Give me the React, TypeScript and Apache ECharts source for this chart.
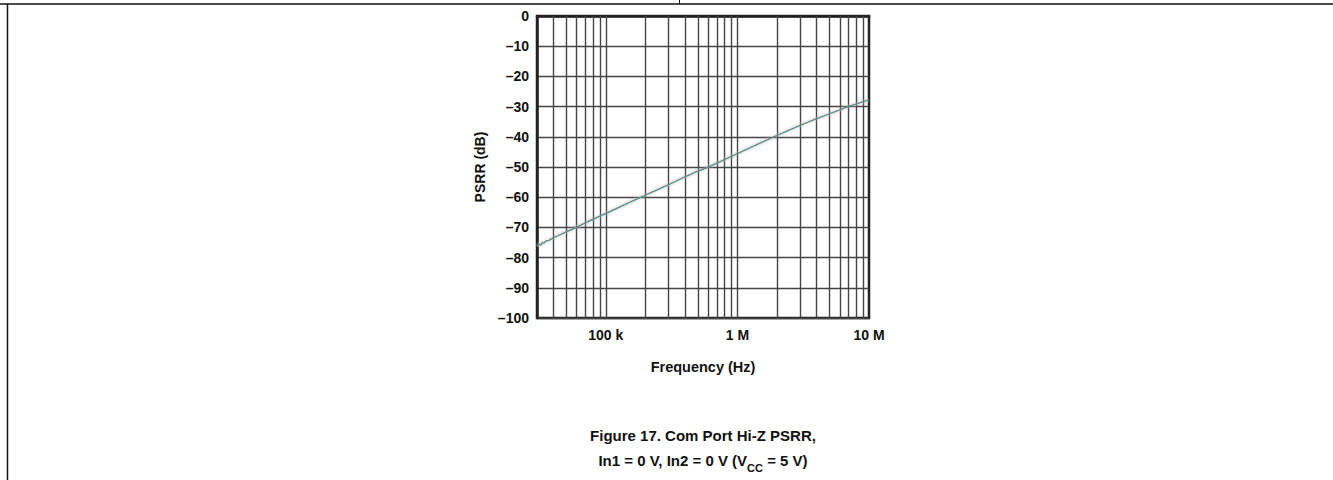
import React, { useEffect, useRef } from "react";
import * as echarts from "echarts";

const freqHz = [
  30000, 31000, 32000, 33000, 34000, 35000, 37000, 40000, 43000, 46000, 50000,
  55000, 60000, 70000, 80000, 90000, 100000, 150000, 200000, 300000, 400000,
  500000, 600000, 700000, 1000000, 1500000, 2000000, 3000000, 4000000, 5000000,
  7000000, 10000000,
];
const psrrDb = [
  -76.3, -75.6, -75.9, -75.0, -75.2, -74.5, -74.3, -73.4, -72.8, -72.2, -71.5,
  -70.7, -69.9, -68.5, -67.3, -66.3, -65.4, -61.8, -59.3, -55.8, -53.3,
  -51.4, -50.0, -48.7, -45.6, -42.0, -39.5, -36.2, -34.0, -32.4,
  -29.9, -27.8,
];
const xGridValues = [
  40000, 50000, 60000, 70000, 80000, 90000, 100000, 200000, 300000, 400000,
  500000, 600000, 700000, 800000, 900000, 1000000, 2000000, 3000000, 4000000,
  5000000, 6000000, 7000000, 8000000, 9000000,
];
const xTickLabels: Record<string, string> = { "5": "100 k", "6": "1 M", "7": "10 M" };
const yTicks = { min: -100, max: 0, interval: 10 };
const titleLine1 = "Figure 17. Com Port Hi-Z PSRR,";
const xName = "Frequency (Hz)";
const yName = "PSRR (dB)";

const FONT = 'Arial, "Liberation Sans", Helvetica, sans-serif';

export default function App() {
  const ref = useRef<HTMLDivElement>(null);
  useEffect(() => {
    if (!ref.current) return;
    const chart = echarts.init(ref.current, undefined, { renderer: "svg" });
    const data = freqHz.map((f, i) => [f, psrrDb[i]]);
    chart.setOption({
      animation: false,
      backgroundColor: "#ffffff",
      grid: {
        left: 537,
        top: 16,
        width: 332,
        height: 302,
        show: true,
        borderColor: "#222222",
        borderWidth: 2.5,
        backgroundColor: "transparent",
      },
      xAxis: {
        type: "log",
        logBase: 10,
        min: 30000,
        max: 10000000,
        name: xName,
        nameLocation: "middle",
        nameGap: 41,
        nameTextStyle: { fontFamily: FONT, fontWeight: "bold", fontSize: 14.5, color: "#111" },
        axisLine: { show: true, lineStyle: { color: "#222", width: 2.5 } },
        axisTick: { show: false },
        splitLine: { show: false },
        axisLabel: {
          margin: 10,
          fontFamily: FONT,
          fontWeight: "bold",
          fontSize: 14,
          color: "#111",
          formatter: (v: number) => {
            const l = Math.log10(v);
            const r = Math.round(l);
            if (Math.abs(l - r) < 1e-6) return xTickLabels[String(r)] || "";
            return "";
          },
        },
      },
      yAxis: {
        type: "value",
        min: yTicks.min,
        max: yTicks.max,
        interval: yTicks.interval,
        name: yName,
        nameLocation: "middle",
        nameGap: 50,
        nameTextStyle: { fontFamily: FONT, fontWeight: "bold", fontSize: 14, color: "#111" },
        axisLine: { show: true, lineStyle: { color: "#222", width: 2.5 } },
        axisTick: { show: false },
        splitLine: { show: true, lineStyle: { color: "#444", width: 1.4 } },
        axisLabel: {
          margin: 8,
          fontFamily: FONT,
          fontWeight: "bold",
          fontSize: 14,
          color: "#111",
          formatter: (v: number) => (v < 0 ? "\u2013" + Math.abs(v) : String(v)),
        },
      },
      graphic: [
        {
          type: "line",
          shape: { x1: 0, y1: 4, x2: 1333, y2: 4 },
          style: { stroke: "#111", lineWidth: 1.5 },
        },
        {
          type: "line",
          shape: { x1: 7.5, y1: 4, x2: 7.5, y2: 480 },
          style: { stroke: "#111", lineWidth: 1.5 },
        },
        {
          type: "line",
          shape: { x1: 679.5, y1: 0, x2: 679.5, y2: 4 },
          style: { stroke: "#111", lineWidth: 1 },
        },
        {
          type: "text",
          x: 703,
          y: 423,
          style: {
            text: titleLine1 + "\n{n|In1 = 0 V, In2 = 0 V (V}{s|CC}{n| = 5 V)}",
            align: "center",
            verticalAlign: "top",
            font: `bold 15px ${FONT}`,
            fill: "#111",
            lineHeight: 25,
            rich: {
              n: { fontFamily: FONT, fontWeight: "bold", fontSize: 15, lineHeight: 25, fill: "#111" },
              s: {
                fontFamily: FONT,
                fontWeight: "bold",
                fontSize: 11,
                lineHeight: 11,
                verticalAlign: "bottom",
                fill: "#111",
              },
            },
          },
        },
      ],
      series: [
        {
          type: "line",
          data,
          showSymbol: false,
          symbol: "none",
          lineStyle: { color: "rgba(235,170,160,0.25)", width: 5 },
          z: 3,
          silent: true,
          markLine: {
            silent: true,
            symbol: ["none", "none"],
            label: { show: false },
            lineStyle: { color: "#444", width: 1.4, type: "solid" },
            data: xGridValues.map((v) => ({ xAxis: v })),
            z: 1,
          },
        },
        {
          type: "line",
          data,
          showSymbol: false,
          symbol: "none",
          lineStyle: { color: "#4f9499", width: 1.4 },
          z: 4,
          silent: true,
        },
      ],
    });
    return () => chart.dispose();
  }, []);
  return (
    <div
      ref={ref}
      style={{ position: "fixed", left: 0, top: 0, width: 1333, height: 480 }}
    />
  );
}
